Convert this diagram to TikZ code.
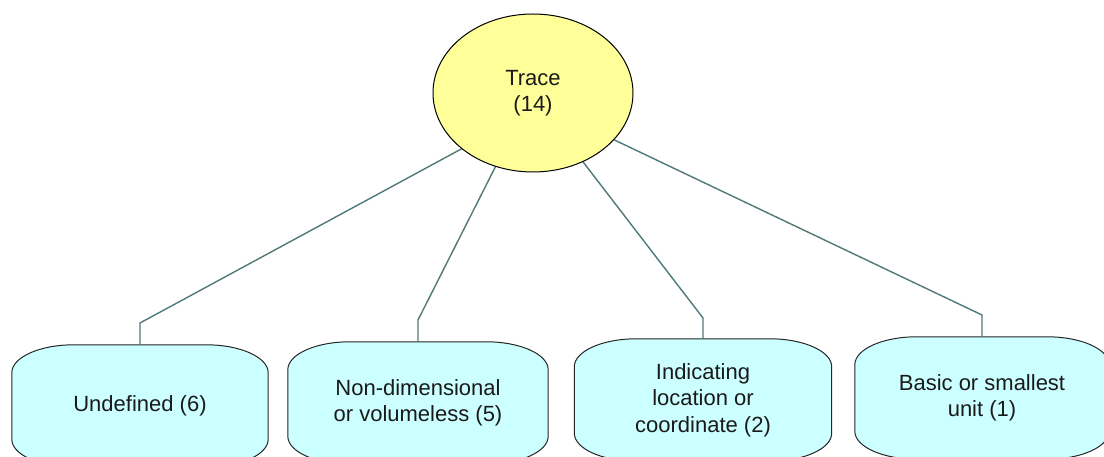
\documentclass[tikz,border=0pt]{standalone}
\usepackage{fontspec}
\setmainfont{Liberation Sans}
\usetikzlibrary{shapes.geometric}
\pgfdeclarelayer{background}
\pgfsetlayers{background,main}
\definecolor{traceyellow}{HTML}{FFFF99}
\definecolor{boxcyan}{HTML}{CCFFFF}
\definecolor{linkcol}{HTML}{4F7878}
\definecolor{textcol}{HTML}{1A1A1A}
\tikzset{
  txt/.style={font=\fontsize{22pt}{26.5pt}\selectfont, text=textcol, align=center},
  rootnode/.style={txt, ellipse, draw=black, line width=1pt, fill=traceyellow,
    minimum width=200pt, minimum height=158pt, inner sep=0pt},
  catnode/.style={txt, rectangle, draw=none, minimum height=122pt, inner sep=0pt},
  boxline/.style={draw=black!85, line width=1pt, fill=boxcyan},
  link/.style={draw=linkcol, line width=1.4pt}
}
\newcommand{\capsuleshape}[1]{%
  \path[boxline] ([xshift=62pt]#1.north west) -- ([xshift=-62pt]#1.north east)
    arc[start angle=90,end angle=0,x radius=62pt,y radius=28pt]
    -- ([yshift=28pt]#1.south east)
    arc[start angle=0,end angle=-90,x radius=62pt,y radius=28pt]
    -- ([xshift=62pt]#1.south west)
    arc[start angle=270,end angle=180,x radius=62pt,y radius=28pt]
    -- ([yshift=-28pt]#1.north west)
    arc[start angle=180,end angle=90,x radius=62pt,y radius=28pt] -- cycle;}
\begin{document}
\begin{tikzpicture}[x=1pt,y=1pt]
\useasboundingbox (0,0) rectangle (1104,457);
\clip (0,0) rectangle (1104,457);
\node[rootnode] (trace) at (533,364) {Trace\\(14)};
\node[catnode, minimum width=256pt] (b1) at (140,51) {Undefined (6)};
\node[catnode, minimum width=260pt] (b2) at (418,54) {Non-dimensional\\or volumeless (5)};
\node[catnode, minimum width=257pt] (b3) at (703,57) {Indicating\\location or\\coordinate (2)};
\node[catnode, minimum width=254pt] (b4) at (982,59) {Basic or smallest\\unit (1)};
\begin{pgfonlayer}{background}
\capsuleshape{b1}
\capsuleshape{b2}
\capsuleshape{b3}
\capsuleshape{b4}
\end{pgfonlayer}
\coordinate (k1) at (140,134);
\coordinate (k2) at (418,137);
\coordinate (k3) at (703,139);
\coordinate (k4) at (982,142);
\begin{pgfonlayer}{background}
\draw[link] (trace.218.8) -- (k1) -- (b1.north);
\draw[link] (trace.243.1) -- (k2) -- (b2.north);
\draw[link] (trace.306.9) -- (k3) -- (b3.north);
\draw[link] (trace.330.8) -- (k4) -- (b4.north);
\end{pgfonlayer}
\end{tikzpicture}
\end{document}
